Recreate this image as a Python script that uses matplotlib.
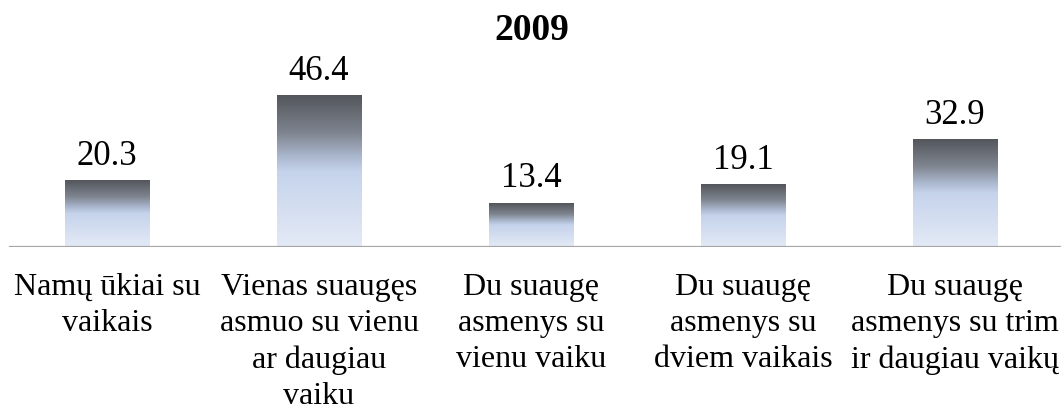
import numpy as np
import matplotlib.pyplot as plt
from matplotlib.colors import LinearSegmentedColormap

plt.rcParams['font.family'] = ['Liberation Serif', 'DejaVu Serif']

# duomenys
kategorijos = ["Namų ūkiai su\nvaikais",
               "Vienas suaugęs\nasmuo su vienu\nar daugiau\nvaiku",
               "Du suaugę\nasmenys su\nvienu vaiku",
               "Du suaugę\nasmenys su\ndviem vaikais",
               "Du suaugę\nasmenys su trim\nir daugiau vaikų"]
reiksmes = [20.3, 46.4, 13.4, 19.1, 32.9]
metai = "2009"

# gradientas: apačia šviesiai mėlyna, viršus tamsiai pilka
cmap = LinearSegmentedColormap.from_list("grad", [
    (0.0, "#e4eaf6"),
    (0.5, "#c5d3eb"),
    (0.6, "#a9b6cc"),
    (0.75, "#7f8590"),
    (1.0, "#53565b"),
])

fig = plt.figure(figsize=(10.63, 4.10), dpi=100)
ax = fig.add_axes([1/1063, 162/410, 1060/1063, 163/410])

x = np.arange(len(reiksmes))
plotis = 0.40
bars = ax.bar(x, reiksmes, width=plotis, color="none", edgecolor="none")

grad = np.linspace(0, 1, 256).reshape(-1, 1)
for b in bars:
    x0, y0 = b.get_x(), b.get_y()
    ax.imshow(grad, cmap=cmap, origin="lower", aspect="auto",
              extent=[x0, x0 + b.get_width(), y0, y0 + b.get_height()],
              zorder=2, interpolation="bilinear")

for xi, v in zip(x, reiksmes):
    ax.text(xi, v + 2.8, f"{v:.1f}", ha="center", va="bottom", fontsize=25)

ax.set_xlim(-0.5, len(reiksmes) - 0.5)
ax.set_ylim(0, 50)
ax.set_xticks(x)
ax.set_xticklabels(kategorijos, fontsize=23, linespacing=1.32)
ax.tick_params(axis="x", length=0, pad=18)
ax.set_yticks([])
for s in ["top", "right", "left", "bottom"]:
    ax.spines[s].set_visible(False)
ax.axhline(0, xmin=9/1060, xmax=1, color="#a6a6a6", lw=1.6, zorder=3)

fig.text(0.5, 1 - 31/410, metai, ha="center", va="center",
         fontsize=27, fontweight="bold")

plt.savefig("out.png", dpi=100)
